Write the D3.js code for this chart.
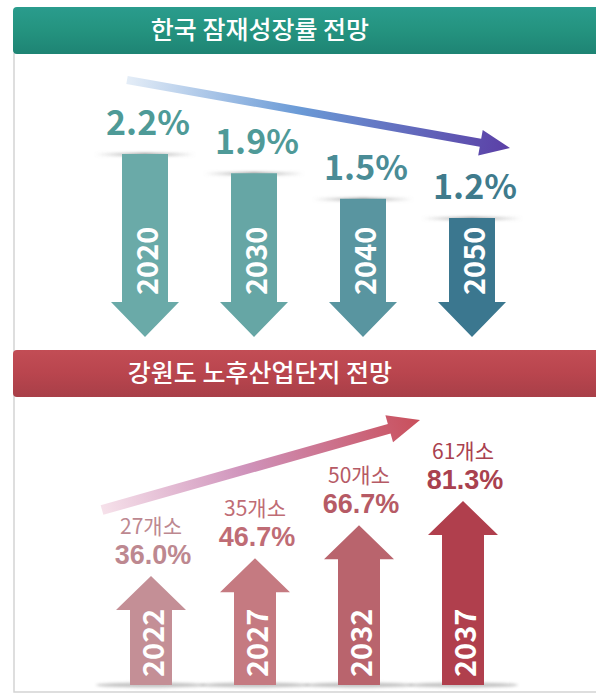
<!DOCTYPE html>
<html>
<head>
<meta charset="utf-8">
<script src="https://cdn.jsdelivr.net/npm/d3@7"></script>
<style>
  body { margin: 0; background: #fff; }
  svg { display: block; font-family: "Noto Sans CJK KR", "Noto Sans", sans-serif; }
</style>
</head>
<body>
<div class="chart"></div>
<script>
// data
var growthYears = ["2020", "2030", "2040", "2050"];
var growthRates = [2.2, 1.9, 1.5, 1.2];
var growthColors = ["#6aaaa8", "#66a6a5", "#5995a0", "#3b778f"];
var growthLabelColors = ["#4e9a97", "#4f9a98", "#4a8c96", "#3f7b8c"];

var parkYears = ["2022", "2027", "2032", "2037"];
var parkCounts = [27, 35, 50, 61];
var parkShares = [36.0, 46.7, 66.7, 81.3];
var parkColors = ["#c48f96", "#c57a81", "#b9646d", "#b03f4d"];
var parkLabelColors = ["#bd8890", "#bf6c75", "#b65a65", "#a9414f"];

var titles = ["한국 잠재성장률 전망", "강원도 노후산업단지 전망"];

var W = 596, H = 699;

var svg = d3.select("div.chart")
  .append("svg")
  .attr("width", W)
  .attr("height", H)
  .attr("viewBox", `0 0 ${W} ${H}`);

var defs = svg.append("defs");

// header gradients
var tealGrad = defs.append("linearGradient").attr("id", "teal").attr("x1", 0).attr("x2", 0).attr("y1", 0).attr("y2", 1);
tealGrad.append("stop").attr("offset", "0%").attr("stop-color", "#2a9c8d");
tealGrad.append("stop").attr("offset", "50%").attr("stop-color", "#24937f");
tealGrad.append("stop").attr("offset", "100%").attr("stop-color", "#1e8474");

var redGrad = defs.append("linearGradient").attr("id", "red").attr("x1", 0).attr("x2", 0).attr("y1", 0).attr("y2", 1);
redGrad.append("stop").attr("offset", "0%").attr("stop-color", "#c24d55");
redGrad.append("stop").attr("offset", "50%").attr("stop-color", "#b9454e");
redGrad.append("stop").attr("offset", "100%").attr("stop-color", "#a83f48");

var shadowGrad = defs.append("linearGradient").attr("id", "shade");
shadowGrad.append("stop").attr("offset", "0%").attr("stop-color", "#999").attr("stop-opacity", 0);
shadowGrad.append("stop").attr("offset", "50%").attr("stop-color", "#777").attr("stop-opacity", 0.8);
shadowGrad.append("stop").attr("offset", "100%").attr("stop-color", "#999").attr("stop-opacity", 0);

defs.append("filter").attr("id", "blur").attr("x", "-20%").attr("y", "-200%").attr("width", "140%").attr("height", "500%")
  .append("feGaussianBlur").attr("stdDeviation", 1.5);

// panel border
svg.append("path")
  .attr("d", `M14,53 V692 H${W}`)
  .attr("fill", "none")
  .attr("stroke", "#d4d4d4")
  .attr("stroke-width", 1.5);

// headers
var headerY = [7, 350];
var headerFill = ["url(#teal)", "url(#red)"];
titles.forEach(function(t, i) {
  svg.append("rect")
    .attr("x", 13).attr("y", headerY[i])
    .attr("width", W + 10).attr("height", 47)
    .attr("rx", 4)
    .attr("fill", headerFill[i]);
  svg.append("text")
    .attr("x", 260).attr("y", headerY[i] + 32)
    .attr("text-anchor", "middle")
    .attr("fill", "#fff")
    .attr("font-size", 25)
    .attr("font-weight", 500)
    .text(t);
});

// arrow polygon between two points
function arrowPath(x1, y1, x2, y2, shaft, headLen, headW) {
  var a = Math.atan2(y2 - y1, x2 - x1);
  var len = Math.hypot(x2 - x1, y2 - y1);
  var c = Math.cos(a), s = Math.sin(a);
  function p(u, v) { return [x1 + u * c - v * s, y1 + u * s + v * c]; }
  var pts = [p(0, -shaft / 2), p(len - headLen, -shaft / 2), p(len - headLen, -headW / 2),
             p(len, 0), p(len - headLen, headW / 2), p(len - headLen, shaft / 2), p(0, shaft / 2)];
  return "M" + pts.map(function(d) { return d.join(","); }).join("L") + "Z";
}

// ---------- top: potential growth rate ----------
var xTop = d3.scalePoint().domain(growthYears).range([145, 472]);
var yTop = d3.scaleLinear().domain([2.2, 1.2]).range([154, 218]);
var topTip = 337;

// trend arrow
var tg = defs.append("linearGradient").attr("id", "trendTop").attr("gradientUnits", "userSpaceOnUse")
  .attr("x1", xTop("2020") - 18).attr("y1", yTop(2.2) - 74)
  .attr("x2", xTop("2050") + 38).attr("y2", yTop(1.2) - 70);
tg.append("stop").attr("offset", "0%").attr("stop-color", "#e4edf7");
tg.append("stop").attr("offset", "45%").attr("stop-color", "#6a9ad6");
tg.append("stop").attr("offset", "100%").attr("stop-color", "#5b3fa6");

svg.append("path")
  .attr("d", arrowPath(xTop("2020") - 18, yTop(2.2) - 74, xTop("2050") + 38, yTop(1.2) - 70, 8, 30, 26))
  .attr("fill", "url(#trendTop)");

var topG = svg.append("g").selectAll("g")
  .data(growthYears)
  .enter()
  .append("g");

topG.append("rect")
  .attr("x", d => xTop(d) - 50)
  .attr("y", (d, i) => yTop(growthRates[i]) - 1)
  .attr("width", 100).attr("height", 3)
  .attr("fill", "url(#shade)")
  .attr("filter", "url(#blur)");

topG.append("path")
  .attr("d", function(d, i) {
    var x = xTop(d), y0 = yTop(growthRates[i]);
    var sw = 23, hw = 34, hl = 35;
    return `M${x - sw},${y0} H${x + sw} V${topTip - hl} H${x + hw} L${x},${topTip} L${x - hw},${topTip - hl} H${x - sw} Z`;
  })
  .attr("fill", (d, i) => growthColors[i]);

topG.append("text")
  .attr("transform", d => `translate(${xTop(d)},295) rotate(-90)`)
  .attr("dominant-baseline", "central")
  .attr("fill", "#fff")
  .attr("font-size", 29)
  .attr("font-weight", 700)
  .text(d => d);

topG.append("text")
  .attr("x", d => xTop(d) + 3)
  .attr("y", (d, i) => yTop(growthRates[i]) - 19)
  .attr("text-anchor", "middle")
  .attr("fill", (d, i) => growthLabelColors[i])
  .attr("font-size", 34)
  .attr("font-weight", 700)
  .text((d, i) => growthRates[i].toFixed(1) + "%");

// ---------- bottom: aging industrial complexes ----------
var xBot = d3.scalePoint().domain(parkYears).range([151, 463]);
var yBot = d3.scaleLinear().domain([36, 81.3]).range([576, 501]);
var botBase = 685;

var bg = defs.append("linearGradient").attr("id", "trendBot").attr("gradientUnits", "userSpaceOnUse")
  .attr("x1", xBot("2022") - 49).attr("y1", yBot(36) - 66)
  .attr("x2", xBot("2037") - 43).attr("y2", yBot(81.3) - 81);
bg.append("stop").attr("offset", "0%").attr("stop-color", "#f6e1ea");
bg.append("stop").attr("offset", "45%").attr("stop-color", "#cf93bb");
bg.append("stop").attr("offset", "100%").attr("stop-color", "#c94f5b");

svg.append("path")
  .attr("d", arrowPath(xBot("2022") - 49, yBot(36) - 66, xBot("2037") - 43, yBot(81.3) - 81, 10, 32, 28))
  .attr("fill", "url(#trendBot)");

var botG = svg.append("g").selectAll("g")
  .data(parkYears)
  .enter()
  .append("g");

botG.append("ellipse")
  .attr("cx", d => xBot(d))
  .attr("cy", botBase)
  .attr("rx", 55).attr("ry", 2.5)
  .attr("fill", "#888")
  .attr("opacity", 0.5)
  .attr("filter", "url(#blur)");

botG.append("path")
  .attr("d", function(d, i) {
    var x = xBot(d), tip = yBot(parkShares[i]);
    var sw = 21, hw = 35, hl = 34;
    return `M${x - sw},${botBase} V${tip + hl} H${x - hw} L${x},${tip} L${x + hw},${tip + hl} H${x + sw} V${botBase} Z`;
  })
  .attr("fill", (d, i) => parkColors[i]);

botG.append("text")
  .attr("transform", d => `translate(${xBot(d)},677) rotate(-90)`)
  .attr("dominant-baseline", "central")
  .attr("fill", "#fff")
  .attr("font-size", 29)
  .attr("font-weight", 700)
  .text(d => d);

botG.append("text")
  .attr("x", d => xBot(d) + 2)
  .attr("y", (d, i) => yBot(parkShares[i]) - 12)
  .attr("text-anchor", "middle")
  .attr("fill", (d, i) => parkLabelColors[i])
  .attr("font-family", "'Liberation Sans', sans-serif")
  .attr("font-size", 27)
  .attr("font-weight", 700)
  .text((d, i) => parkShares[i].toFixed(1) + "%");

botG.append("text")
  .attr("x", d => xBot(d))
  .attr("y", (d, i) => yBot(parkShares[i]) - 42)
  .attr("text-anchor", "middle")
  .attr("fill", (d, i) => parkLabelColors[i])
  .attr("font-size", 21)
  .text((d, i) => parkCounts[i] + "개소");
</script>
</body>
</html>
